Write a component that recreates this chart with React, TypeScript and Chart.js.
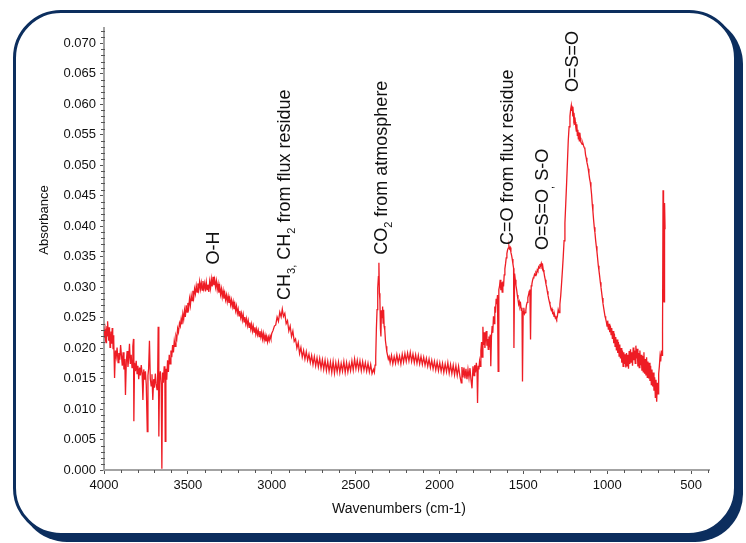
import React, { useEffect, useRef } from "react";
import { Chart, registerables } from "chart.js";

Chart.register(...registerables);

// ---- Spectrum (wavenumber cm-1, absorbance) ----
const highWavenumberNoise: [number, number][] = [
  [4000, 0.0218], [3997, 0.0226], [3994, 0.0231], [3991, 0.0213], [3988, 0.0209], [3985, 0.0229], [3982, 0.0236], [3980, 0.0219], [3977, 0.0244], [3974, 0.0221], [3972, 0.0212],
  [3969, 0.0234], [3967, 0.0228], [3964, 0.0201], [3961, 0.0205], [3958, 0.0227], [3956, 0.0223], [3953, 0.0207], [3951, 0.0233], [3948, 0.0218], [3946, 0.0199], [3943, 0.0221], [3941, 0.0214],
  [3937, 0.0151], [3932, 0.0196], [3927, 0.0186], [3922, 0.0201], [3916, 0.0176], [3911, 0.0192],
  [3906, 0.0181], [3901, 0.0205], [3896, 0.0188], [3891, 0.0171], [3886, 0.0193], [3881, 0.0165],
  [3876, 0.0182], [3872, 0.0123], [3867, 0.0178], [3862, 0.0195], [3857, 0.0169], [3852, 0.0186],
  [3848, 0.0207], [3843, 0.0174], [3838, 0.0189], [3833, 0.0168], [3828, 0.0203], [3824, 0.0215],
  [3822, 0.0080], [3818, 0.0176], [3813, 0.0162], [3808, 0.0179], [3803, 0.0158], [3798, 0.0171],
  [3793, 0.0149], [3788, 0.0168], [3783, 0.0155], [3778, 0.0172], [3773, 0.0160], [3768, 0.0115],
  [3763, 0.0165], [3758, 0.0148], [3753, 0.0162], [3748, 0.0140], [3742, 0.0063], [3738, 0.0155],
  [3734, 0.0166], [3729, 0.0212], [3724, 0.0150], [3719, 0.0138], [3714, 0.0157], [3709, 0.0115],
  [3704, 0.0149], [3699, 0.0135], [3694, 0.0158], [3689, 0.0142], [3684, 0.0132], [3680, 0.0153],
  [3677, 0.0235], [3673, 0.0055], [3669, 0.0148], [3664, 0.0162], [3659, 0.0141], [3655, 0.0002],
  [3651, 0.0160], [3646, 0.0143], [3641, 0.0170], [3637, 0.0152], [3635, 0.0047], [3631, 0.0166],
  [3626, 0.0148], [3621, 0.0180], [3616, 0.0161], [3611, 0.0189], [3606, 0.0174], [3601, 0.0196],
  [3596, 0.0185], [3591, 0.0205], [3586, 0.0193], [3581, 0.0212], [3576, 0.0203], [3571, 0.0220],
  [3566, 0.0215], [3561, 0.0232], [3556, 0.0226], [3550, 0.0241],
];

const hydroxylBand: [number, number][] = [
  [3545, 0.0236], [3540, 0.0248], [3535, 0.0239], [3530, 0.0256], [3525, 0.0247], [3520, 0.0262],
  [3515, 0.0251], [3510, 0.0270], [3505, 0.0259], [3500, 0.0274], [3495, 0.0266], [3490, 0.0281],
  [3485, 0.0270], [3480, 0.0286], [3475, 0.0278], [3470, 0.0294], [3465, 0.0283], [3460, 0.0297],
  [3455, 0.0289], [3450, 0.0302], [3445, 0.0292], [3440, 0.0306], [3435, 0.0296], [3430, 0.0309],
  [3425, 0.0297], [3420, 0.0307], [3415, 0.0295], [3410, 0.0310], [3405, 0.0298], [3400, 0.0306],
  [3395, 0.0293], [3390, 0.0308], [3385, 0.0296], [3380, 0.0304], [3375, 0.0292], [3370, 0.0309],
  [3365, 0.0298], [3360, 0.0313], [3355, 0.0301], [3350, 0.0317], [3345, 0.0303], [3340, 0.0312],
  [3335, 0.0300], [3330, 0.0310], [3325, 0.0296], [3320, 0.0305], [3315, 0.0291], [3310, 0.0301],
  [3305, 0.0288], [3300, 0.0297], [3295, 0.0284], [3290, 0.0294], [3285, 0.0281], [3280, 0.0290],
  [3275, 0.0279], [3270, 0.0287], [3265, 0.0276], [3260, 0.0285], [3255, 0.0274], [3250, 0.0282],
  [3245, 0.0271], [3240, 0.0279], [3235, 0.0268], [3230, 0.0276], [3225, 0.0264], [3220, 0.0272],
  [3215, 0.0261], [3210, 0.0269], [3205, 0.0257], [3200, 0.0264], [3195, 0.0253], [3190, 0.0261],
  [3185, 0.0250], [3180, 0.0257], [3175, 0.0246], [3170, 0.0255], [3165, 0.0243], [3160, 0.0251],
  [3155, 0.0240], [3150, 0.0248], [3145, 0.0237], [3140, 0.0245], [3135, 0.0234], [3130, 0.0242],
  [3125, 0.0231], [3120, 0.0239], [3115, 0.0228], [3110, 0.0236], [3105, 0.0226], [3100, 0.0234],
  [3095, 0.0223], [3090, 0.0231], [3085, 0.0222], [3080, 0.0229], [3075, 0.0219], [3070, 0.0228],
  [3065, 0.0218], [3060, 0.0226], [3055, 0.0215], [3050, 0.0224], [3045, 0.0213], [3040, 0.0221],
  [3035, 0.0211], [3030, 0.0219], [3025, 0.0210], [3020, 0.0218], [3015, 0.0212], [3010, 0.0220],
  [3005, 0.0215], [3000, 0.0224],
];

const methyleneRegion: [number, number][] = [
  [2992, 0.0229], [2984, 0.0236], [2976, 0.0238], [2968, 0.0251], [2960, 0.0244], [2952, 0.0259],
  [2944, 0.0251], [2937, 0.0264], [2930, 0.0252], [2922, 0.0257], [2914, 0.0240], [2906, 0.0245],
  [2898, 0.0228], [2890, 0.0236], [2882, 0.0219], [2874, 0.0228], [2866, 0.0211], [2858, 0.0215],
  [2850, 0.0200], [2842, 0.0209], [2834, 0.0191], [2826, 0.0201], [2818, 0.0185], [2810, 0.0196],
  [2802, 0.0182], [2794, 0.0194], [2786, 0.0180], [2778, 0.0190], [2770, 0.0176], [2762, 0.0188],
  [2754, 0.0173], [2746, 0.0186], [2738, 0.0171], [2730, 0.0184], [2722, 0.0169], [2714, 0.0183],
  [2706, 0.0167], [2698, 0.0181], [2690, 0.0165], [2682, 0.0180], [2674, 0.0163], [2666, 0.0178],
  [2658, 0.0162], [2650, 0.0177], [2642, 0.0160], [2634, 0.0178], [2626, 0.0159], [2618, 0.0176],
  [2610, 0.0161], [2602, 0.0177], [2594, 0.0160], [2586, 0.0175], [2578, 0.0162], [2570, 0.0178],
  [2562, 0.0160], [2554, 0.0176], [2546, 0.0161], [2538, 0.0175], [2530, 0.0163], [2522, 0.0179],
  [2514, 0.0164], [2506, 0.0182], [2498, 0.0166], [2490, 0.0180], [2482, 0.0165], [2474, 0.0179],
  [2466, 0.0163], [2458, 0.0178], [2450, 0.0164], [2442, 0.0176], [2434, 0.0162], [2426, 0.0175],
  [2418, 0.0161], [2410, 0.0173], [2402, 0.0158], [2394, 0.0165], [2388, 0.0160],
];

const carbonDioxideBand: [number, number][] = [
  [2384, 0.0172], [2380, 0.0185], [2376, 0.0232], [2372, 0.0263], [2368, 0.0298], [2364, 0.0317],
  [2361, 0.0340], [2358, 0.0290], [2355, 0.0279], [2352, 0.0232], [2349, 0.0219], [2346, 0.0262],
  [2342, 0.0250], [2339, 0.0268], [2336, 0.0241], [2333, 0.0263], [2330, 0.0236], [2326, 0.0230],
  [2322, 0.0212], [2318, 0.0203], [2314, 0.0194], [2310, 0.0189], [2305, 0.0182], [2300, 0.0186],
];

const midBaseline: [number, number][] = [
  [2294, 0.0176], [2286, 0.0188], [2278, 0.0174], [2270, 0.0186], [2262, 0.0175], [2254, 0.0189],
  [2246, 0.0176], [2238, 0.0187], [2230, 0.0174], [2222, 0.0190], [2214, 0.0177], [2206, 0.0191],
  [2198, 0.0178], [2190, 0.0192], [2182, 0.0179], [2174, 0.0193], [2166, 0.0178], [2158, 0.0190],
  [2150, 0.0176], [2142, 0.0189], [2134, 0.0175], [2126, 0.0188], [2118, 0.0174], [2110, 0.0186],
  [2102, 0.0173], [2094, 0.0185], [2086, 0.0172], [2078, 0.0183], [2070, 0.0170], [2062, 0.0182],
  [2054, 0.0168], [2046, 0.0180], [2038, 0.0166], [2030, 0.0178], [2022, 0.0164], [2014, 0.0177],
  [2006, 0.0163], [1998, 0.0176], [1990, 0.0162], [1982, 0.0175], [1974, 0.0160], [1966, 0.0174],
  [1958, 0.0161], [1950, 0.0176], [1942, 0.0159], [1934, 0.0173], [1926, 0.0158], [1918, 0.0172],
  [1910, 0.0156], [1902, 0.0171], [1894, 0.0155], [1886, 0.0170], [1878, 0.0154], [1870, 0.0143],
  [1866, 0.0169], [1860, 0.0152], [1854, 0.0168], [1848, 0.0150], [1842, 0.0166], [1836, 0.0149],
  [1830, 0.0165], [1824, 0.0151], [1818, 0.0167], [1812, 0.0148], [1806, 0.0134], [1800, 0.0170],
  [1794, 0.0155],
];

const carbonylRegion: [number, number][] = [
  [1790, 0.0172], [1785, 0.0160], [1780, 0.0176], [1776, 0.0162], [1773, 0.0110], [1769, 0.0171],
  [1765, 0.0165], [1761, 0.0178], [1757, 0.0170], [1753, 0.0196], [1749, 0.0210], [1745, 0.0185],
  [1741, 0.0235], [1737, 0.0205], [1733, 0.0226], [1729, 0.0200], [1725, 0.0218], [1721, 0.0228],
  [1717, 0.0204], [1713, 0.0215], [1709, 0.0198], [1705, 0.0219], [1701, 0.0210], [1697, 0.0222],
  [1694, 0.0170], [1690, 0.0218], [1686, 0.0236], [1682, 0.0225], [1678, 0.0252], [1674, 0.0240],
  [1670, 0.0268], [1666, 0.0258], [1662, 0.0281], [1658, 0.0272], [1654, 0.0287], [1650, 0.0162],
  [1646, 0.0296], [1642, 0.0301], [1638, 0.0312], [1634, 0.0295], [1630, 0.0308], [1626, 0.0292],
  [1622, 0.0309], [1618, 0.0301], [1614, 0.0320], [1610, 0.0330], [1606, 0.0338], [1602, 0.0348],
  [1598, 0.0355], [1594, 0.0361], [1590, 0.0364], [1586, 0.0368], [1582, 0.0363], [1578, 0.0365],
  [1574, 0.0357], [1570, 0.0352], [1566, 0.0346], [1562, 0.0338], [1558, 0.0331], [1556, 0.0200],
  [1552, 0.0322], [1548, 0.0312], [1544, 0.0303], [1540, 0.0296], [1536, 0.0287], [1532, 0.0280],
  [1528, 0.0272], [1524, 0.0276], [1520, 0.0268], [1516, 0.0272], [1512, 0.0262], [1508, 0.0266],
  [1505, 0.0145], [1501, 0.0260], [1497, 0.0266], [1493, 0.0256], [1489, 0.0258], [1485, 0.0262],
  [1481, 0.0271], [1477, 0.0275], [1473, 0.0283], [1469, 0.0287], [1465, 0.0293], [1461, 0.0296],
  [1457, 0.0214], [1453, 0.0302], [1449, 0.0305], [1445, 0.0311], [1441, 0.0315], [1437, 0.0317],
  [1433, 0.0321], [1429, 0.0319], [1425, 0.0324], [1421, 0.0322], [1417, 0.0328], [1413, 0.0326],
  [1409, 0.0333], [1405, 0.0331], [1401, 0.0336], [1397, 0.0335], [1393, 0.0339], [1389, 0.0334],
  [1385, 0.0336], [1381, 0.0328], [1377, 0.0324], [1373, 0.0317], [1369, 0.0312], [1365, 0.0305],
  [1361, 0.0300], [1357, 0.0293], [1353, 0.0287], [1349, 0.0281], [1345, 0.0276], [1341, 0.0271],
  [1337, 0.0267], [1333, 0.0262], [1329, 0.0264], [1325, 0.0257], [1321, 0.0258], [1317, 0.0252],
  [1313, 0.0254], [1309, 0.0249], [1305, 0.0251], [1301, 0.0248],
];

const sulfonylPeak: [number, number][] = [
  [1297, 0.0252], [1292, 0.0263], [1287, 0.0258], [1282, 0.0272], [1277, 0.0286], [1272, 0.0306],
  [1267, 0.0327], [1262, 0.0350], [1257, 0.0376], [1252, 0.0405], [1247, 0.0437], [1242, 0.0470],
  [1237, 0.0505], [1232, 0.0541], [1227, 0.0563], [1222, 0.0580], [1218, 0.0591], [1214, 0.0598],
  [1211, 0.0589], [1208, 0.0596], [1205, 0.0580], [1202, 0.0586], [1199, 0.0574], [1196, 0.0578],
  [1193, 0.0566], [1190, 0.0571], [1187, 0.0562], [1184, 0.0556], [1181, 0.0567], [1178, 0.0549],
  [1175, 0.0558], [1172, 0.0543], [1169, 0.0554], [1166, 0.0540], [1163, 0.0553], [1160, 0.0545],
  [1157, 0.0538], [1153, 0.0536], [1149, 0.0534], [1145, 0.0536], [1141, 0.0532], [1137, 0.0529],
  [1133, 0.0527], [1129, 0.0517], [1125, 0.0512], [1121, 0.0505], [1117, 0.0500], [1113, 0.0494],
  [1109, 0.0486], [1105, 0.0478], [1101, 0.0472], [1097, 0.0463], [1093, 0.0452], [1089, 0.0436],
  [1085, 0.0424], [1081, 0.0410], [1077, 0.0398], [1073, 0.0389], [1069, 0.0377], [1065, 0.0367],
  [1061, 0.0358], [1057, 0.0347], [1053, 0.0335], [1049, 0.0327], [1045, 0.0318], [1041, 0.0308],
  [1037, 0.0300], [1033, 0.0291], [1029, 0.0282], [1025, 0.0273], [1021, 0.0266], [1017, 0.0259],
  [1013, 0.0252], [1009, 0.0248],
];

const fingerprintTail: [number, number][] = [
  [1005, 0.0243], [1001, 0.0236], [997, 0.0245], [993, 0.0230], [989, 0.0240], [985, 0.0226],
  [981, 0.0237], [977, 0.0222], [973, 0.0233], [969, 0.0215], [965, 0.0228], [961, 0.0208],
  [957, 0.0224], [953, 0.0203], [949, 0.0218], [945, 0.0196], [941, 0.0214], [937, 0.0192],
  [933, 0.0210], [929, 0.0187], [925, 0.0206], [921, 0.0183], [917, 0.0200], [913, 0.0176],
  [909, 0.0196], [905, 0.0170], [901, 0.0193], [897, 0.0174], [893, 0.0190], [889, 0.0168],
  [885, 0.0192], [881, 0.0171], [877, 0.0189], [873, 0.0166], [869, 0.0195], [865, 0.0174],
  [861, 0.0198], [857, 0.0177], [853, 0.0193], [849, 0.0171], [845, 0.0201], [841, 0.0180],
  [837, 0.0196], [833, 0.0175], [829, 0.0204], [825, 0.0183], [821, 0.0199], [817, 0.0170],
  [813, 0.0192], [809, 0.0168], [805, 0.0196], [801, 0.0172], [797, 0.0189], [793, 0.0163],
  [789, 0.0187], [785, 0.0161], [781, 0.0193], [777, 0.0158], [773, 0.0182], [769, 0.0155],
  [765, 0.0185], [761, 0.0152], [757, 0.0178], [753, 0.0150], [749, 0.0176], [745, 0.0146],
  [741, 0.0171], [737, 0.0140], [733, 0.0165], [729, 0.0137], [725, 0.0160], [721, 0.0130],
  [717, 0.0152], [713, 0.0119], [709, 0.0148], [705, 0.0112], [701, 0.0143], [697, 0.0125],
  [693, 0.0158], [689, 0.0170], [685, 0.0186], [681, 0.0178], [677, 0.0196], [673, 0.0188],
  [670, 0.0225], [667, 0.0459], [664, 0.0280], [661, 0.0276], [658, 0.0438], [655, 0.0395],
];

// ---- Axes ----
const xTickValues = [4000, 3500, 3000, 2500, 2000, 1500, 1000, 500];
const yTickValues = [0, 0.005, 0.01, 0.015, 0.02, 0.025, 0.03, 0.035, 0.04, 0.045, 0.05, 0.055, 0.06, 0.065, 0.07];
const xRange = [393, 4000];
const yRange = [0, 0.0725];

// ---- Peak annotations: [wavenumber of text baseline, absorbance where text starts, segments] ----
type Seg = { t: string; sub?: boolean };
const peakLabels: { wn: number; y: number; segs: Seg[] }[] = [
  { wn: 3317, y: 0.0337, segs: [{ t: "O-H" }] },
  {
    wn: 2893,
    y: 0.0279,
    segs: [{ t: "CH" }, { t: "3", sub: true }, { t: ",", sub: true }, { t: " CH" }, { t: "2", sub: true }, { t: " from flux residue" }],
  },
  { wn: 2314, y: 0.0353, segs: [{ t: "CO" }, { t: "2", sub: true }, { t: " from atmosphere" }] },
  { wn: 1562, y: 0.0369, segs: [{ t: "C=O from flux residue" }] },
  { wn: 1353, y: 0.0361, segs: [{ t: "O=S=O" }, { t: ",", sub: true }, { t: " S-O" }] },
  { wn: 1175, y: 0.062, segs: [{ t: "O=S=O" }] },
];

const FONT = "'Liberation Sans', Arial, Helvetica, sans-serif";
const NAVY = "#0c2e5e";

const minorTicksPlugin = {
  id: "minorTicks",
  afterDraw(chart: any) {
    const { ctx, chartArea, scales } = chart;
    ctx.save();
    ctx.strokeStyle = "#555";
    ctx.lineWidth = 1;
    ctx.beginPath();
    for (let v = 400; v <= 4000; v += 100) {
      if (v % 500 === 0) continue;
      const px = Math.round(scales.x.getPixelForValue(v)) + 0.5;
      ctx.moveTo(px, chartArea.bottom);
      ctx.lineTo(px, chartArea.bottom + 3);
    }
    for (let i = 1; i <= 72; i++) {
      if (i % 5 === 0) continue;
      const py = Math.round(scales.y.getPixelForValue(i / 1000)) + 0.5;
      ctx.moveTo(chartArea.left - 3, py);
      ctx.lineTo(chartArea.left + 1, py);
    }
    ctx.stroke();
    ctx.restore();
  },
};

const textPlugin = {
  id: "texts",
  afterDraw(chart: any) {
    const { ctx, scales } = chart;
    ctx.save();
    ctx.fillStyle = "#111";
    // axis titles
    ctx.font = `14px ${FONT}`;
    ctx.textAlign = "center";
    ctx.textBaseline = "middle";
    ctx.fillText("Wavenumbers (cm-1)", 399, 509);
    ctx.save();
    ctx.translate(44, 220);
    ctx.rotate(-Math.PI / 2);
    ctx.font = `13px ${FONT}`;
    ctx.fillText("Absorbance", 0, 0);
    ctx.restore();
    // peak labels
    for (const lab of peakLabels) {
      const x = scales.x.getPixelForValue(lab.wn);
      const y = scales.y.getPixelForValue(lab.y);
      ctx.save();
      ctx.translate(x, y);
      ctx.rotate(-Math.PI / 2);
      ctx.textAlign = "left";
      ctx.textBaseline = "alphabetic";
      let cx = 0;
      for (const s of lab.segs) {
        ctx.font = s.sub ? `11px ${FONT}` : `18px ${FONT}`;
        ctx.fillText(s.t, cx, s.sub ? 5 : 0);
        cx += ctx.measureText(s.t).width;
      }
      ctx.restore();
    }
    ctx.restore();
  },
};

export default function App() {
  const ref = useRef<HTMLCanvasElement>(null);
  useEffect(() => {
    const points = [
      ...highWavenumberNoise,
      ...hydroxylBand,
      ...methyleneRegion,
      ...carbonDioxideBand,
      ...midBaseline,
      ...carbonylRegion,
      ...sulfonylPeak,
      ...fingerprintTail,
    ].map(([x, y]) => ({ x, y }));
    const chart = new Chart(ref.current as HTMLCanvasElement, {
      type: "line",
      data: {
        datasets: [
          {
            data: points,
            borderColor: "#ee1c24",
            borderWidth: 1.3,
            pointRadius: 0,
            tension: 0,
            fill: false,
          },
        ],
      },
      options: {
        animation: false,
        responsive: false,
        devicePixelRatio: 1,
        events: [],
        layout: { padding: { top: 28, right: 37, left: 0, bottom: 0 } },
        plugins: { legend: { display: false }, tooltip: { enabled: false } },
        scales: {
          x: {
            type: "linear",
            reverse: true,
            min: xRange[0],
            max: xRange[1],
            afterBuildTicks: (s: any) => {
              s.ticks = xTickValues.map((v) => ({ value: v }));
            },
            afterFit: (s: any) => {
              s.height = 73;
            },
            border: { display: true, color: "#a3a3a3", width: 2 },
            grid: { display: true, drawOnChartArea: false, drawTicks: true, tickLength: 4, tickColor: "#555" },
            ticks: {
              color: "#111",
              font: { family: FONT, size: 13 },
              padding: 4,
              maxRotation: 0,
              autoSkip: false,
              callback: (v: any) => String(v),
            },
          },
          y: {
            type: "linear",
            min: yRange[0],
            max: yRange[1],
            afterBuildTicks: (s: any) => {
              s.ticks = yTickValues.map((v) => ({ value: v }));
            },
            afterFit: (s: any) => {
              s.width = 104;
            },
            border: { display: true, color: "#a3a3a3", width: 2 },
            grid: { display: true, drawOnChartArea: false, drawTicks: true, tickLength: 4, tickColor: "#555" },
            ticks: {
              color: "#111",
              font: { family: FONT, size: 13 },
              padding: 4,
              autoSkip: false,
              callback: (v: any) => Number(v).toFixed(3),
            },
          },
        },
      },
      plugins: [minorTicksPlugin, textPlugin],
    });
    return () => chart.destroy();
  }, []);

  return (
    <div style={{ position: "fixed", left: 0, top: 0, width: 746, height: 543, background: "#fff", overflow: "hidden" }}>
      <div
        style={{
          position: "absolute",
          left: 13,
          top: 10,
          width: 718,
          height: 520,
          border: `3px solid ${NAVY}`,
          borderRadius: 48,
          boxShadow: `6px 6px 0 0 ${NAVY}`,
          background: "#fff",
        }}
      />
      <canvas ref={ref} width={746} height={543} style={{ position: "absolute", left: 0, top: 0, display: "block" }} />
    </div>
  );
}
